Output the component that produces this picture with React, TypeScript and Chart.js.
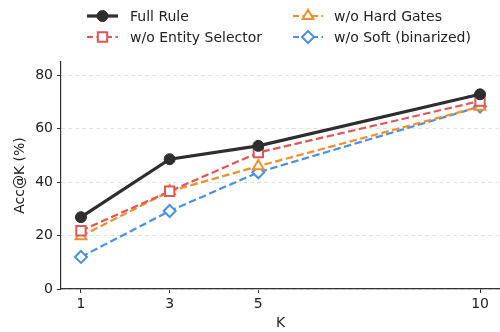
import React, { useEffect, useRef } from "react";
import { Chart, registerables } from "chart.js";

Chart.register(...registerables);

const kValues = [1, 3, 5, 10];
const fullRule = [26.9, 48.6, 53.6, 72.9];
const woEntitySelector = [21.8, 36.6, 51.1, 70.4];
const woHardGates = [19.8, 36.6, 46.0, 68.3];
const woSoft = [12.0, 29.2, 43.7, 68.3];
const xTicks = [1, 3, 5, 10];
const yTicks = [0, 20, 40, 60, 80];

const FONT = "'DejaVu Sans', sans-serif";

type Series = {
  label: string;
  data: number[];
  color: string;
  style: string;
  dashed: boolean;
  filled: boolean;
  width: number;
  radius: number;
};

const seriesList: Series[] = [
  { label: "Full Rule", data: fullRule, color: "#2e2e2e", style: "circle", dashed: false, filled: true, width: 3.2, radius: 5.5 },
  { label: "w/o Entity Selector", data: woEntitySelector, color: "#e05555", style: "rect", dashed: true, filled: false, width: 2.2, radius: 6.6 },
  { label: "w/o Hard Gates", data: woHardGates, color: "#f28e2b", style: "triangle", dashed: true, filled: false, width: 2.2, radius: 6.2 },
  { label: "w/o Soft (binarized)", data: woSoft, color: "#4a90e2", style: "rectRot", dashed: true, filled: false, width: 2.2, radius: 6 },
];

const DASH = [7.5, 3.5];

function drawMarker(ctx: CanvasRenderingContext2D, style: string, x: number, y: number, r: number) {
  ctx.beginPath();
  if (style === "circle") {
    ctx.arc(x, y, r, 0, Math.PI * 2);
  } else if (style === "rect") {
    const h = r * Math.SQRT1_2;
    ctx.rect(x - h, y - h, 2 * h, 2 * h);
  } else if (style === "triangle") {
    ctx.moveTo(x, y - r);
    ctx.lineTo(x + r * 0.866, y + r * 0.5);
    ctx.lineTo(x - r * 0.866, y + r * 0.5);
    ctx.closePath();
  } else {
    ctx.moveTo(x, y - r);
    ctx.lineTo(x + r, y);
    ctx.lineTo(x, y + r);
    ctx.lineTo(x - r, y);
    ctx.closePath();
  }
}

const legendPlugin = {
  id: "customLegend",
  afterDraw(chart: any) {
    const ctx: CanvasRenderingContext2D = chart.ctx;
    const cols = [
      { x0: 87, x1: 118, tx: 130 },
      { x0: 293, x1: 323, tx: 334 },
    ];
    const rows = [16, 37];
    const order = [
      [0, 0],
      [1, 0],
      [0, 1],
      [1, 1],
    ];
    ctx.save();
    seriesList.forEach((s, i) => {
      const [row, col] = order[i];
      const c = cols[col];
      const y = rows[row];
      ctx.strokeStyle = s.color;
      ctx.lineWidth = s.width;
      ctx.setLineDash(s.dashed ? [6, 3.5] : []);
      ctx.beginPath();
      ctx.moveTo(c.x0, y);
      ctx.lineTo(c.x1, y);
      ctx.stroke();
      ctx.setLineDash([]);
      const mx = (c.x0 + c.x1) / 2;
      drawMarker(ctx, s.style, mx, y, s.radius);
      ctx.fillStyle = s.filled ? s.color : "#ffffff";
      ctx.fill();
      ctx.lineWidth = s.filled ? 1 : 2;
      ctx.strokeStyle = s.color;
      ctx.stroke();
      ctx.fillStyle = "#222222";
      ctx.font = `14px ${FONT}`;
      ctx.textBaseline = "middle";
      ctx.textAlign = "left";
      ctx.fillText(s.label, c.tx, y + 1);
    });
    ctx.restore();
  },
};

export default function App() {
  const ref = useRef<HTMLCanvasElement | null>(null);
  useEffect(() => {
    if (!ref.current) return;
    const chart = new Chart(ref.current, {
      type: "line",
      data: {
        datasets: seriesList.map((s) => ({
          label: s.label,
          data: kValues.map((k, i) => ({ x: k, y: s.data[i] })),
          borderColor: s.color,
          backgroundColor: s.filled ? s.color : "#ffffff",
          pointBackgroundColor: s.filled ? s.color : "#ffffff",
          pointBorderColor: s.color,
          pointBorderWidth: s.filled ? 1 : 2,
          pointStyle: s.style as any,
          pointRadius: s.radius,
          borderWidth: s.width,
          borderDash: s.dashed ? DASH : [],
          fill: false,
          tension: 0,
          clip: false,
        })),
      },
      options: {
        animation: false,
        responsive: false,
        layout: { autoPadding: false, padding: { top: 62, right: 0, left: 0, bottom: 0 } },
        plugins: { legend: { display: false }, tooltip: { enabled: false } },
        scales: {
          x: {
            type: "linear",
            min: 0.55,
            max: 10.45,
            afterBuildTicks: (scale: any) => {
              scale.ticks = xTicks.map((v) => ({ value: v }));
            },
            afterFit: (scale: any) => {
              scale.height = 43;
              scale.paddingLeft = 0;
              scale.paddingRight = 0;
            },
            ticks: {
              color: "#222222",
              font: { family: FONT, size: 14 },
              padding: 3,
              autoSkip: false,
              maxRotation: 0,
            },
            grid: {
              drawOnChartArea: false,
              drawTicks: true,
              tickLength: 4,
              tickColor: "#333333",
              tickWidth: 1,
            },
            border: { display: true, color: "#333333", width: 1.2 },
            title: {
              display: true,
              text: "K",
              color: "#222222",
              font: { family: FONT, size: 14 },
              padding: { top: 0, bottom: 0 },
            },
          },
          y: {
            min: 0,
            max: 85,
            afterBuildTicks: (scale: any) => {
              scale.ticks = yTicks.map((v) => ({ value: v }));
            },
            afterFit: (scale: any) => {
              scale.width = 61;
              scale.paddingTop = 0;
              scale.paddingBottom = 0;
            },
            ticks: {
              color: "#222222",
              font: { family: FONT, size: 14 },
              padding: 4,
            },
            grid: {
              color: "#e2e2e2",
              lineWidth: 1,
              drawTicks: true,
              tickLength: 4,
              tickColor: "#333333",
              tickWidth: 1,
              tickBorderDash: [],
            },
            border: { display: true, color: "#333333", width: 1.2, dash: [4, 3] },
            title: {
              display: true,
              text: "Acc@K (%)",
              color: "#222222",
              font: { family: FONT, size: 14 },
              padding: { top: 12, bottom: 0 },
            },
          },
        },
      },
      plugins: [legendPlugin],
    } as any);
    return () => chart.destroy();
  }, []);
  return (
    <div style={{ position: "fixed", left: 0, top: 0, width: 500, height: 332, background: "#ffffff" }}>
      <canvas ref={ref} width={500} height={332} style={{ width: 500, height: 332 }} />
    </div>
  );
}
